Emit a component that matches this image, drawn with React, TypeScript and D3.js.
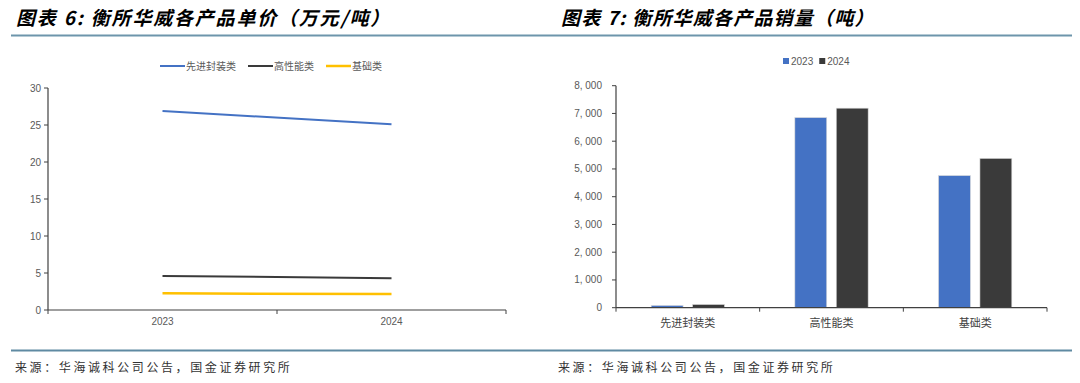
import * as d3 from "d3";
import { useEffect, useRef } from "react";

// chart 6: unit price (万元/吨)
const years = ["2023", "2024"];
const priceSeries = ["先进封装类", "高性能类", "基础类"];
const priceAdvanced = [26.9, 25.1];
const priceHighPerf = [4.6, 4.3];
const priceBasic = [2.25, 2.15];
const priceTicks = [0, 5, 10, 15, 20, 25, 30];

// chart 7: sales volume (吨)
const categories = ["先进封装类", "高性能类", "基础类"];
const volumeYears = ["2023", "2024"];
const volume2023 = [80, 6850, 4760];
const volume2024 = [115, 7190, 5380];
const volumeTicks = [0, 1000, 2000, 3000, 4000, 5000, 6000, 7000, 8000];

const BLUE = "#4472C4";
const DARK = "#3a3a3a";
const YELLOW = "#FFC000";
const AXIS = "#404040";
const LABEL = "#595959";
const CJK = "'Noto Sans CJK SC', 'Liberation Sans', sans-serif";

function App() {
  const ref = useRef(null);

  useEffect(() => {
    const svg = d3.select(ref.current);
    svg.selectAll("*").remove();

    // titles + rules
    svg.append("text").attr("x", 16).attr("y", 25)
      .attr("font-family", CJK).attr("font-size", 19).attr("font-weight", 700)
      .attr("font-style", "italic").attr("letter-spacing", 1.8).attr("fill", "#000")
      .text("图表 6: 衡所华威各产品单价（万元/吨）");
    svg.append("text").attr("x", 561).attr("y", 25)
      .attr("font-family", CJK).attr("font-size", 19).attr("font-weight", 700)
      .attr("font-style", "italic").attr("letter-spacing", 1.2).attr("fill", "#000")
      .text("图表 7: 衡所华威各产品销量（吨）");
    svg.append("line").attr("x1", 11).attr("x2", 1072).attr("y1", 35.5).attr("y2", 35.5)
      .attr("stroke", "#6d95ab").attr("stroke-width", 2);
    svg.append("line").attr("x1", 11).attr("x2", 1072).attr("y1", 350.5).attr("y2", 350.5)
      .attr("stroke", "#5f8aa2").attr("stroke-width", 2);
    [15, 558].forEach((x) => {
      svg.append("text").attr("x", x).attr("y", 372)
        .attr("font-family", CJK).attr("font-size", 12).attr("letter-spacing", 2.6)
        .attr("fill", "#333").text("来源：华海诚科公司公告，国金证券研究所");
    });

    // ---------- left: line chart ----------
    const left = svg.append("g");
    const x = d3.scaleBand().domain(years).range([48, 506]);
    const y = d3.scaleLinear().domain([0, 30]).range([310, 88]);

    // y axis
    left.append("line").attr("x1", 48).attr("x2", 48).attr("y1", y(30)).attr("y2", y(0))
      .attr("stroke", AXIS).attr("stroke-width", 1.2);
    priceTicks.forEach((t) => {
      left.append("line").attr("x1", 44).attr("x2", 48).attr("y1", y(t)).attr("y2", y(t))
        .attr("stroke", AXIS);
      left.append("text").attr("x", 41).attr("y", y(t) + 3.5).attr("text-anchor", "end")
        .attr("font-family", "'Liberation Sans', sans-serif").attr("font-size", 10)
        .attr("fill", LABEL).text(t);
    });
    // x axis
    left.append("line").attr("x1", 48).attr("x2", 506).attr("y1", y(0)).attr("y2", y(0))
      .attr("stroke", AXIS).attr("stroke-width", 1.2);
    [...years.map((d) => x(d)), 506].forEach((bx) => {
      left.append("line").attr("x1", bx).attr("x2", bx).attr("y1", y(0)).attr("y2", y(0) + 4)
        .attr("stroke", AXIS);
    });
    years.forEach((d) => {
      left.append("text").attr("x", x(d) + x.bandwidth() / 2).attr("y", 325)
        .attr("text-anchor", "middle").attr("font-family", "'Liberation Sans', sans-serif")
        .attr("font-size", 10).attr("fill", LABEL).text(d);
    });

    const lines = [
      { name: priceSeries[0], values: priceAdvanced, color: BLUE, w: 2 },
      { name: priceSeries[1], values: priceHighPerf, color: DARK, w: 2 },
      { name: priceSeries[2], values: priceBasic, color: YELLOW, w: 2.5 },
    ];
    const line = d3.line()
      .x((d, i) => x(years[i]) + x.bandwidth() / 2)
      .y((d) => y(d));
    lines.forEach((s) => {
      left.append("path").datum(s.values).attr("fill", "none")
        .attr("stroke", s.color).attr("stroke-width", s.w).attr("d", line);
    });

    // legend
    let lx = 160;
    lines.forEach((s) => {
      left.append("line").attr("x1", lx).attr("x2", lx + 25).attr("y1", 66).attr("y2", 66)
        .attr("stroke", s.color).attr("stroke-width", s.w);
      const t = left.append("text").attr("x", lx + 26).attr("y", 69.5)
        .attr("font-family", CJK).attr("font-size", 10).attr("fill", LABEL).text(s.name);
      lx += 26 + t.node().getComputedTextLength() + 12;
    });

    // ---------- right: bar chart ----------
    const right = svg.append("g");
    const x0 = d3.scaleBand().domain(categories).range([616, 1047]);
    const x1 = d3.scaleBand().domain(volumeYears).range([0, x0.bandwidth()])
      .paddingInner(0.23).paddingOuter(0.85);
    const yv = d3.scaleLinear().domain([0, 8000]).range([307.7, 85.7]);
    const fmt = (v) => d3.format(",")(v).replace(",", ", ");

    right.append("line").attr("x1", 616).attr("x2", 616).attr("y1", yv(8000)).attr("y2", yv(0))
      .attr("stroke", AXIS).attr("stroke-width", 1.2);
    volumeTicks.forEach((t) => {
      right.append("line").attr("x1", 612).attr("x2", 616).attr("y1", yv(t)).attr("y2", yv(t))
        .attr("stroke", AXIS);
      right.append("text").attr("x", 602).attr("y", yv(t) + 3.5).attr("text-anchor", "end")
        .attr("font-family", "'Liberation Sans', sans-serif").attr("font-size", 10)
        .attr("fill", LABEL).text(fmt(t));
    });

    const barColors = [BLUE, DARK];
    const seriesVals = [volume2023, volume2024];
    categories.forEach((c, ci) => {
      volumeYears.forEach((yr, si) => {
        const v = seriesVals[si][ci];
        right.append("rect")
          .attr("x", x0(c) + x1(yr)).attr("width", x1.bandwidth())
          .attr("y", yv(v)).attr("height", yv(0) - yv(v))
          .attr("fill", barColors[si]).attr("stroke", "#d9d9d9").attr("stroke-width", 0.6);
      });
      right.append("text").attr("x", x0(c) + x0.bandwidth() / 2).attr("y", 327)
        .attr("text-anchor", "middle").attr("font-family", CJK).attr("font-size", 11)
        .attr("fill", "#404040").text(c);
    });

    right.append("line").attr("x1", 616).attr("x2", 1047).attr("y1", yv(0)).attr("y2", yv(0))
      .attr("stroke", AXIS).attr("stroke-width", 1.2);
    [...categories.map((c) => x0(c)), 1047].forEach((bx) => {
      right.append("line").attr("x1", bx).attr("x2", bx).attr("y1", yv(0)).attr("y2", yv(0) + 4)
        .attr("stroke", AXIS);
    });

    // legend
    let rx = 783;
    volumeYears.forEach((yr, i) => {
      right.append("rect").attr("x", rx).attr("y", 58).attr("width", 6).attr("height", 6)
        .attr("fill", barColors[i]);
      const t = right.append("text").attr("x", rx + 8).attr("y", 65)
        .attr("font-family", "'Liberation Sans', sans-serif").attr("font-size", 10)
        .attr("fill", LABEL).text(yr);
      rx += 8 + t.node().getComputedTextLength() + 6;
    });
  }, []);

  return (
    <div style={{ margin: -8 }}>
      <svg ref={ref} width={1080} height={383} style={{ display: "block", background: "#fff" }} />
    </div>
  );
}

export default App;
